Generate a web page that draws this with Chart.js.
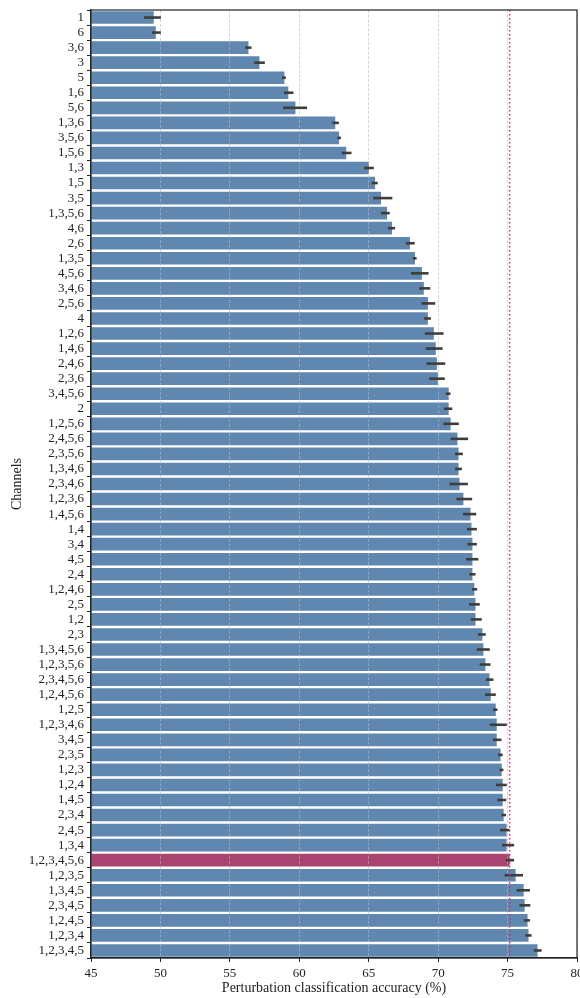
<!DOCTYPE html>
<html>
<head>
<meta charset="utf-8">
<script src="https://cdn.jsdelivr.net/npm/chart.js@4.4.1/dist/chart.umd.min.js"></script>
<style>
  html, body { margin: 0; padding: 0; background: #fff; }
  #wrap { width: 580px; height: 998px; }
</style>
</head>
<body>
<div id="wrap"><canvas id="channelChart"></canvas></div>
<script>
// Channel subsets, sorted by mean accuracy
const channels = [
    '1', '6', '3,6', '3', '5', '1,6', '5,6', '1,3,6', '3,5,6', '1,5,6',
    '1,3', '1,5', '3,5', '1,3,5,6', '4,6', '2,6', '1,3,5', '4,5,6', '3,4,6', '2,5,6',
    '4', '1,2,6', '1,4,6', '2,4,6', '2,3,6', '3,4,5,6', '2', '1,2,5,6', '2,4,5,6', '2,3,5,6',
    '1,3,4,6', '2,3,4,6', '1,2,3,6', '1,4,5,6', '1,4', '3,4', '4,5', '2,4', '1,2,4,6', '2,5',
    '1,2', '2,3', '1,3,4,5,6', '1,2,3,5,6', '2,3,4,5,6', '1,2,4,5,6', '1,2,5', '1,2,3,4,6', '3,4,5', '2,3,5',
    '1,2,3', '1,2,4', '1,4,5', '2,3,4', '2,4,5', '1,3,4', '1,2,3,4,5,6', '1,2,3,5', '1,3,4,5', '2,3,4,5',
    '1,2,4,5', '1,2,3,4', '1,2,3,4,5'
];

// Mean perturbation classification accuracy (%)
const meanAcc = [
    49.52, 49.67, 56.34, 57.13, 58.93, 59.21, 59.72, 62.59, 62.87, 63.38,
    65.02, 65.46, 65.89, 66.32, 66.68, 67.97, 68.33, 68.83, 68.97, 69.26,
    69.26, 69.69, 69.83, 69.91, 69.98, 70.76, 70.76, 70.90, 71.39, 71.47,
    71.47, 71.54, 71.82, 72.33, 72.40, 72.47, 72.47, 72.47, 72.61, 72.69,
    72.69, 73.19, 73.26, 73.41, 73.70, 73.79, 74.15, 74.22, 74.22, 74.50,
    74.58, 74.65, 74.65, 74.72, 74.93, 74.93, 75.15, 75.58, 76.16, 76.23,
    76.44, 76.51, 77.16
];

// Confidence interval bounds
const ciLow = [
    48.82, 49.40, 56.10, 56.75, 58.76, 58.90, 58.83, 62.39, 62.75, 63.06,
    64.68, 65.21, 65.33, 65.88, 66.39, 67.68, 68.18, 68.04, 68.63, 68.80,
    68.99, 69.04, 69.11, 69.16, 69.35, 70.55, 70.42, 70.38, 70.89, 71.22,
    71.22, 70.82, 71.32, 71.80, 72.08, 72.11, 72.01, 72.25, 72.44, 72.23,
    72.35, 72.87, 72.78, 72.99, 73.44, 73.38, 73.95, 73.71, 73.95, 74.31,
    74.43, 74.17, 74.26, 74.55, 74.45, 74.60, 74.88, 74.79, 75.65, 75.86,
    76.17, 76.27, 76.89
];
const ciHigh = [
    50.03, 50.03, 56.56, 57.52, 59.03, 59.58, 60.56, 62.85, 63.00, 63.76,
    65.37, 65.65, 66.70, 66.51, 66.90, 68.31, 68.45, 69.31, 69.43, 69.79,
    69.48, 70.39, 70.32, 70.51, 70.48, 70.89, 71.02, 71.49, 72.16, 71.78,
    71.71, 72.14, 72.45, 72.74, 72.79, 72.79, 72.90, 72.69, 72.81, 73.00,
    73.14, 73.43, 73.72, 73.77, 73.98, 74.15, 74.27, 74.94, 74.56, 74.65,
    74.70, 74.94, 74.91, 74.89, 75.15, 75.47, 75.47, 76.11, 76.61, 76.64,
    76.61, 76.73, 77.45
];

const xTicks = [45, 50, 55, 60, 65, 70, 75, 80];
const allChannels = '1,2,3,4,5,6';
const baseline = meanAcc[channels.indexOf(allChannels)];

const BAR_COLOR = '#5f87af';
const HIGHLIGHT_COLOR = '#a8446f';
const INK = '#222222';
const SERIF = '"Liberation Serif", "DejaVu Serif", serif';
const TICK_FONT = { family: SERIF, size: 13 };
const TITLE_FONT = { family: SERIF, size: 14 };

// Horizontal error bars for each subset
const errorBars = {
    id: 'errorBars',
    afterDraw(chart) {
        const { ctx, scales: { x, y } } = chart;
        ctx.save();
        ctx.strokeStyle = '#3d3d3d';
        ctx.lineWidth = 2.6;
        ctx.lineCap = 'butt';
        ciLow.forEach((lo, i) => {
            const py = y.getPixelForValue(i);
            ctx.beginPath();
            ctx.moveTo(x.getPixelForValue(lo), py);
            ctx.lineTo(x.getPixelForValue(ciHigh[i]), py);
            ctx.stroke();
        });
        ctx.restore();
    }
};

// Dotted reference line at the all-channel accuracy, plus a full frame
const baselineAndFrame = {
    id: 'baselineAndFrame',
    afterDraw(chart) {
        const { ctx, chartArea: a, scales: { x } } = chart;
        ctx.save();
        const px = x.getPixelForValue(baseline);
        ctx.strokeStyle = '#c8306e';
        ctx.lineWidth = 1.5;
        ctx.setLineDash([1.5, 2.5]);
        ctx.beginPath();
        ctx.moveTo(px, a.top);
        ctx.lineTo(px, a.bottom);
        ctx.stroke();

        ctx.setLineDash([]);
        ctx.strokeStyle = INK;
        ctx.lineWidth = 1.2;
        ctx.strokeRect(a.left, a.top, a.right - a.left, a.bottom - a.top);
        ctx.restore();
    }
};

const ctx = document.getElementById('channelChart').getContext('2d');
new Chart(ctx, {
    type: 'bar',
    data: {
        labels: channels,
        datasets: [
            {
                label: 'Accuracy',
                data: meanAcc,
                backgroundColor: channels.map(c => c === allChannels ? HIGHLIGHT_COLOR : BAR_COLOR),
                borderWidth: 0,
                barPercentage: 0.84,
                categoryPercentage: 1.0,
                base: 45,
            },
        ],
    },
    options: {
        indexAxis: 'y',
        responsive: true,
        maintainAspectRatio: false,
        animation: false,
        layout: {
            padding: { top: 10, right: 3, left: 0, bottom: 0 },
        },
        plugins: {
            legend: { display: false },
            tooltip: { enabled: false },
        },
        scales: {
            x: {
                type: 'linear',
                min: 45,
                max: 80,
                afterBuildTicks: (scale) => {
                    scale.ticks = xTicks.map(v => ({ value: v }));
                },
                afterFit: (scale) => {
                    scale.height = 40;
                    scale.paddingLeft = 0;
                    scale.paddingRight = 0;
                },
                ticks: {
                    font: TICK_FONT,
                    color: INK,
                    padding: 4,
                    maxRotation: 0,
                },
                grid: {
                    z: 1,
                    color: 'rgba(185, 185, 185, 0.6)',
                    lineWidth: 1,
                    tickLength: 4,
                    tickColor: INK,
                    tickWidth: 1,
                    tickBorderDash: [],
                },
                border: {
                    z: 2,
                    color: INK,
                    width: 1.2,
                    dash: [3, 1.6],
                },
                title: {
                    display: true,
                    text: 'Perturbation classification accuracy (%)',
                    font: TITLE_FONT,
                    color: INK,
                    padding: { top: 0, bottom: 1 },
                },
            },
            y: {
                type: 'category',
                afterFit: (scale) => {
                    scale.width = 91;
                    scale.paddingTop = 0;
                    scale.paddingBottom = 0;
                },
                ticks: {
                    autoSkip: false,
                    font: TICK_FONT,
                    color: INK,
                    padding: 3,
                },
                grid: {
                    drawOnChartArea: false,
                    tickLength: 4,
                    tickColor: INK,
                    tickWidth: 1,
                },
                border: {
                    z: 2,
                    color: INK,
                    width: 1.2,
                },
                title: {
                    display: true,
                    text: 'Channels',
                    font: TITLE_FONT,
                    color: INK,
                    padding: { top: 9, bottom: 4 },
                },
            },
        },
    },
    plugins: [errorBars, baselineAndFrame],
});
</script>
</body>
</html>
